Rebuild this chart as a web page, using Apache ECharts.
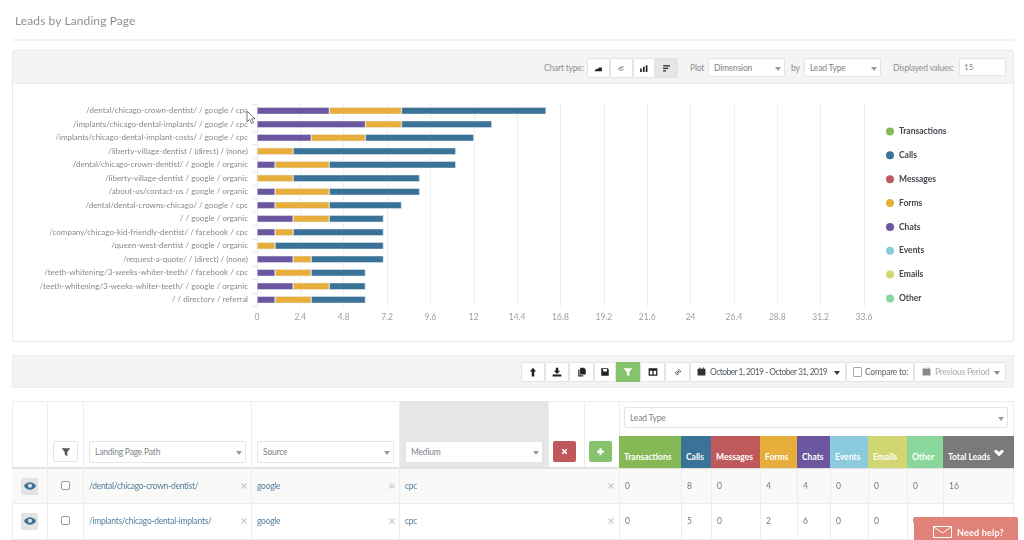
<!DOCTYPE html>
<html><head><meta charset="utf-8">
<script src="https://cdn.jsdelivr.net/npm/echarts@6/dist/echarts.min.js"></script>
<style>
html,body{margin:0;padding:0;background:#fff;width:1024px;height:540px;overflow:hidden;font-family:Lato,"Noto Sans",sans-serif;}
#page{position:absolute;left:0;top:0;width:1024px;height:540px;overflow:hidden;filter:blur(.35px);}
#ui{position:absolute;left:0;top:0;width:1024px;height:540px;overflow:hidden;}
.b{position:absolute;box-sizing:border-box;white-space:nowrap;display:flex;align-items:center;}
#chart{position:absolute;left:13px;top:84px;width:1000px;height:257px;}
svg{display:block}
</style></head><body>
<div id="page">
<div id="ui"></div>
<div id="chart"></div>
<svg style="position:absolute;left:246px;top:110px" width="11" height="15" viewBox="0 0 11 15"><path d="M1 1V12L3.500 9.500L5.500 13.500L7.500 12.500L5.500 8.800H9Z" fill="#fff" stroke="#555" stroke-width=".8"/></svg>
</div>
<script>
// Chart data
const categories = [
 "/dental/chicago-crown-dentist/ / google / cpc",
 "/implants/chicago-dental-implants/ / google / cpc",
 "/implants/chicago-dental-implant-costs/ / google / cpc",
 "/liberty-village-dentist / (direct) / (none)",
 "/dental/chicago-crown-dentist/ / google / organic",
 "/liberty-village-dentist / google / organic",
 "/about-us/contact-us / google / organic",
 "/dental/dental-crowns-chicago/ / google / cpc",
 "/ / google / organic",
 "/company/chicago-kid-friendly-dentist/ / facebook / cpc",
 "/queen-west-dentist / google / organic",
 "/request-a-quote/ / (direct) / (none)",
 "/teeth-whitening/3-weeks-whiter-teeth/ / facebook / cpc",
 "/teeth-whitening/3-weeks-whiter-teeth/ / google / organic",
 "/ / directory / referral"
];
const chats        = [4,6,3,0,1,0,1,1,2,1,0,2,1,2,1];
const forms        = [4,2,3,2,3,2,3,3,2,1,1,1,2,2,2];
const messages     = [0,0,0,0,0,0,0,0,0,0,0,0,0,0,0];
const calls        = [8,5,6,9,7,7,5,4,3,5,6,4,3,2,3];
const transactions = [0,0,0,0,0,0,0,0,0,0,0,0,0,0,0];
const events       = [0,0,0,0,0,0,0,0,0,0,0,0,0,0,0];
const emails       = [0,0,0,0,0,0,0,0,0,0,0,0,0,0,0];
const other        = [0,0,0,0,0,0,0,0,0,0,0,0,0,0,0];
const legendOrder = ["Transactions","Calls","Messages","Forms","Chats","Events","Emails","Other"];
const colors = {Transactions:"#85b956",Calls:"#3a7397",Messages:"#bf5a5c",Forms:"#e8ae3c",Chats:"#6b57a0",Events:"#8acbde",Emails:"#d2d672",Other:"#8ad79b"};
const stackOrder = [["Chats",chats],["Forms",forms],["Messages",messages],["Calls",calls],["Transactions",transactions],["Events",events],["Emails",emails],["Other",other]];
const axisStep = 2.4, axisMax = 33.6;

// Table text
const tableColumns = ["Transactions","Calls","Messages","Forms","Chats","Events","Emails","Other","Total Leads"];
const tableRows = [
 {path:"/dental/chicago-crown-dentist/",source:"google",medium:"cpc",values:[0,8,0,4,4,0,0,0,16]},
 {path:"/implants/chicago-dental-implants/",source:"google",medium:"cpc",values:[0,5,0,2,6,0,0,0,13]}
];

// Surrounding page
const ui = document.getElementById("ui");
function box(x,y,w,h,text,css,html){
  const d=document.createElement("div");d.className="b";
  d.style.cssText=`left:${x}px;top:${y}px;width:${w}px;height:${h}px;`+(css||"");
  if(html)d.innerHTML=html;else if(text!=null)d.textContent=text;
  ui.appendChild(d);return d;
}
const grey="color:#8b9095;letter-spacing:-.2px;";
const ctl="background:#fff;border:1px solid #e4e4e4;border-radius:2px;";
const ico=(p,c,s,vb)=>`<svg width="${s||10}" height="${s||10}" viewBox="${vb||'0 0 16 16'}" style="margin:auto"><path d="${p}" fill="${c||'#222'}"/></svg>`;
const caret=(x,y,c)=>box(x,y,6,4,null,"",`<svg width="6" height="4"><path d="M0 0H6L3 4Z" fill="${c||'#888'}"/></svg>`);
function select(x,y,w,h,t,cs){
  box(x,y,w,h,t,ctl+"padding-left:5px;font-size:8.5px;letter-spacing:-.2px;"+(cs||"color:#7d8388;"));
  caret(x+w-10,y+h/2-1,"#999");
}
// title
box(15,12,300,16,"Leads by Landing Page","font-size:12px;letter-spacing:.1px;color:#8b9095;");
box(12,39,1002,2,null,"background:#f2f2f2;");
// chart panel
box(12,50,1002,292,null,"border:1px solid #e8e8e8;border-radius:2px;");
box(13,51,1000,33,null,"background:#f4f4f4;border-bottom:1px solid #ececec;");
box(544,60,42,16,"Chart type:","font-size:8.5px;"+grey);
const chartBtns=[
 "M1 12L5 8L8 9V6H14V13H1Z",
 "M2 11C3 4 10 3 13 5M3 12C7 13 12 12 14 8",
 "M2 8H5V14H2ZM7 5H10V14H7ZM12 2H15V14H12Z",
 "M2 2H14V4.500H2ZM2 6.500H11V9H2ZM2 11H7V13.500H2Z"];
chartBtns.forEach((p,i)=>box(587+i*22.75,58,22.75,20,null,ctl+(i==3?"background:#e6e6e6;":""),ico(p,i==1?"#999":"#222",9)));
box(690,60,18,16,"Plot","font-size:8.5px;"+grey);
select(708,58,77,19,"Dimension");
box(791,60,12,16,"by","font-size:8.5px;"+grey);
select(804,58,77,19,"Lead Type");
box(893,60,64,16,"Displayed values:","font-size:8.5px;"+grey);
box(959,58,47,18,"15",ctl+"padding-left:4px;font-size:8px;color:#7d8388;");
// toolbar
box(12,355,1002,33,null,"background:#f4f4f4;border:1px solid #eeeeee;");
const toolIcons=[
 "M8 1L13 7H10V15H6V7H3Z",
 "M6 1H10V6H13L8 11L3 6H6ZM1 12H15V15H1Z",
 "M5 1H11L14 4V12H5ZM2 4H4V13H10V15H2Z",
 "M2 2H12L14 4V14H2ZM5 3V7H11V3ZM6 10H10V13H6Z",
 "M1 2H15L10 8V15L6 12V8Z",
 "M1 2H15V14H1ZM3 6V12H7V6ZM9 6V12H13V6Z",
 "M9 3L13 7L11 9L10 8L12 7L9 4L8 6L7 5ZM7 13L3 9L5 7L6 8L4 9L7 12L8 10L9 11ZM6 9L9 6L10 7L7 10Z"];
const toolX=[521,545,569,594,616,640,665,690];
toolIcons.forEach((p,i)=>box(toolX[i],362,toolX[i+1]-toolX[i],20,null,
  i==4?"background:#85c46c;":ctl,ico(p,i==4?"#fff":"#222",10)));
box(690,362,156,20,null,ctl);
box(697,366,9,11,null,"",ico("M1 3H15V15H1ZM4 1H6V3H4ZM10 1H12V3H10Z","#333",9));
box(710,362,125,20,"October 1, 2019 - October 31, 2019","font-size:8.5px;letter-spacing:-.55px;color:#555d63;");
caret(834,371,"#333");
box(846,362,68,20,null,ctl);
box(853,367,9,10,null,"background:#fff;border:1px solid #aaa;border-radius:1px;");
box(865,362,48,20,"Compare to:","font-size:8.5px;letter-spacing:-.25px;color:#666;");
box(914,362,92,20,null,ctl);
box(922,366,9,11,null,"",ico("M1 3H15V15H1ZM4 1H6V3H4ZM10 1H12V3H10Z","#888",9));
box(935,362,60,20,"Previous Period","font-size:8.5px;letter-spacing:-.25px;color:#aaa;");
caret(994,371,"#888");
// table
const line="#ececec";
box(12,401,1002,139,null,`border-top:1px solid ${line};border-left:1px solid ${line};`);
box(400,401,148,67,null,"background:#e6e6e6;");
box(12,468,1002,35,null,"background:#f9f9f7;");
[503,539].forEach(y=>box(12,y,1002,1,null,`background:${line};`));
box(12,467,1002,1.500,null,"background:#e2e2e2;");
[47,83,251,399,619].forEach(x=>box(x,401,1,139,null,`background:${line};`));
[548,584].forEach(x=>box(x,401,1,67,null,`background:${line};`));
const headX=[619,681,711,760,797,830,868,907,943,1014];
headX.slice(1,-1).forEach(x=>box(x,468,1,72,null,`background:${line};`));
box(1013,401,1,139,null,`background:${line};`);
box(53,441,25,21,null,ctl,ico("M1 2H15L10 8V15L6 12V8Z","#555",10));
select(89,440.500,157,22,"Landing Page Path");
select(257,440.500,137,22,"Source");
select(405,440.500,138,22,"Medium");
box(553,441,23,21,null,"background:#c0575a;border-radius:2px;",ico("M3 5L5 3L8 6L11 3L13 5L10 8L13 11L11 13L8 10L5 13L3 11L6 8Z","#fff",9));
box(589,441,23,21,null,"background:#85c46c;border-radius:2px;",ico("M6 2H10V6H14V10H10V14H6V10H2V6H6Z","#fff",9));
select(624,407,384,21,"Lead Type");
const headC=tableColumns.map(n=>colors[n]||"#7a7a7a");
tableColumns.forEach((n,i)=>box(headX[i],436,headX[i+1]-headX[i],32,n,
  `background:${headC[i]};color:#fff;font-weight:700;font-size:8.5px;padding:10px 0 0 5px;`));
box(994,449,10,8,null,"",`<svg width="10" height="8" viewBox="0 0 10 8"><path d="M0 2.500L2 .5L5 3L8 .5L10 2.500L5 7.500Z" fill="#fff"/></svg>`);
tableRows.forEach((r,k)=>{
  const y=468+k*35;
  box(21,y+10,17,16.500,null,"background:#e3e3e3;border-radius:2px;",
   `<svg width="12" height="8" viewBox="0 0 12 8" style="margin:auto"><path d="M0 4C3-1 9-1 12 4C9 9 3 9 0 4Z" fill="#3a7397"/><circle cx="6" cy="3.800" r="2" fill="#e3e3e3"/></svg>`);
  box(61,y+13,9,9,null,"background:#fff;border:1px solid #9a9a9a;border-radius:2px;");
  [[89,r.path],[257,r.source],[405,r.medium]].forEach(([x,t])=>box(x,y+9,150,18,t,"font-size:8.5px;color:#557f9e;letter-spacing:-.27px;"));
  [240,388,607].forEach(x=>box(x,y+13,7,9,null,"",
    `<svg width="6" height="6" viewBox="0 0 6 6" style="margin:auto"><path d="M.5.5L5.500 5.500M5.500.5L.5 5.500" stroke="#ccc" stroke-width="1.200"/></svg>`));
  r.values.forEach((v,i)=>box(headX[i],y+9,headX[i+1]-headX[i],18,v,"font-size:8.5px;color:#777;padding-left:6px;"));
});
// help tab
box(914,517,104,24,null,"background:#e08277;border-radius:2px 2px 0 0;");
box(933,526,19,12,null,"",`<svg width="19" height="12" viewBox="0 0 19 12"><rect x=".5" y=".5" width="18" height="11" fill="none" stroke="#fff"/><path d="M1 1L9.500 7L18 1" fill="none" stroke="#fff"/></svg>`);
box(957,525,50,14,"Need help?","font-size:9px;font-weight:700;color:#fff;letter-spacing:.2px;");

// Chart
const chart = echarts.init(document.getElementById("chart"),null,{renderer:"canvas"});
chart.setOption({
  animation:false,
  grid:{left:244,top:20,width:607,height:202.500,containLabel:false,outerBoundsMode:"none"},
  legend:{
    orient:"vertical",left:873,top:43,padding:0,itemGap:14.850,itemWidth:8,itemHeight:8,icon:"circle",
    selectedMode:false,data:legendOrder,itemStyle:{borderWidth:0},
    textStyle:{fontFamily:"Lato",fontWeight:"bold",fontSize:8.500,color:"#41464d"}
  },
  xAxis:{type:"value",min:0,max:axisMax,interval:axisStep,
    axisLine:{show:false},axisTick:{show:false},
    splitLine:{show:true,lineStyle:{color:"#eeeeee",width:1}},
    axisLabel:{margin:6,fontFamily:"Lato",fontSize:8.500,color:"#a0a0a0",showMinLabel:true,showMaxLabel:true,hideOverlap:false}},
  yAxis:{type:"category",inverse:true,data:categories,
    axisLine:{show:true,lineStyle:{color:"#e6ebf2"}},
    axisTick:{show:true,length:5,lineStyle:{color:"#e6ebf2"}},
    axisLabel:{margin:9,interval:0,fontFamily:"Lato",fontSize:8,color:"#85898e"}},
  series:stackOrder.map(([name,data])=>({
    name,type:"bar",stack:"leads",data,barWidth:7,
    itemStyle:{color:colors[name],borderColor:"#e4edf3",borderWidth:data.some(v=>v>0)?0.500:0},
    emphasis:{disabled:true}
  }))
});
</script>
</body></html>
